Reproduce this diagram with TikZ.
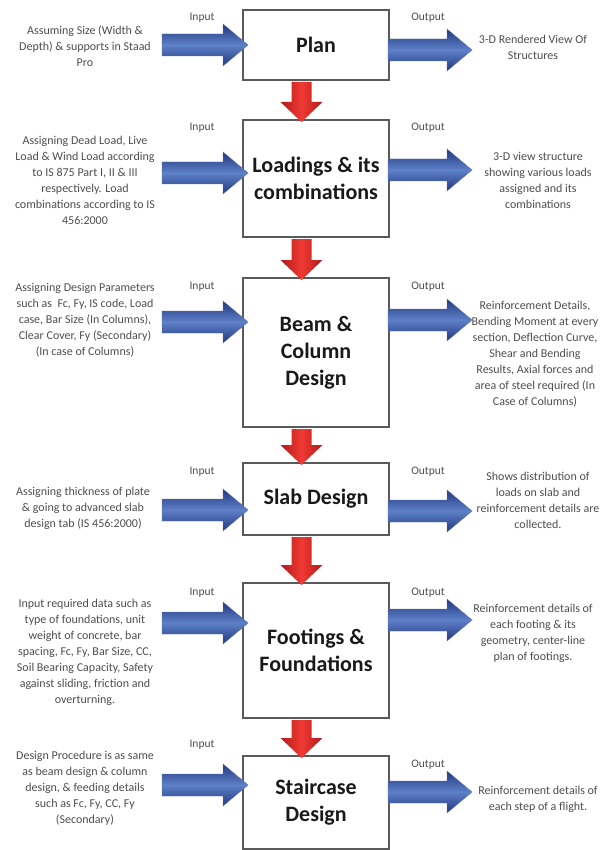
\documentclass[tikz,border=0pt]{standalone}
\usepackage{fontspec}
\setmainfont{Carlito}
\definecolor{txtgray}{HTML}{4E4E4E}
\definecolor{boxgray}{HTML}{5A5A5A}
\definecolor{bdark}{HTML}{22387E}
\definecolor{blight}{HTML}{5E80C8}
\definecolor{rdark}{HTML}{B21A1A}
\definecolor{rlight}{HTML}{F03A34}
\newcommand\bluearr[4]{% tail x, head base x, tip x, centre y
  \shade[top color=bdark, bottom color=bdark, middle color=blight, draw=bdark!70, line width=0.4pt]
    (#1,{#4-11}) -- (#2,{#4-11}) -- (#2,{#4-21}) -- (#3,#4) -- (#2,{#4+21}) -- (#2,{#4+11}) -- (#1,{#4+11}) -- cycle;}
\newcommand\redarr[2]{% start y, tip y
  \shade[left color=rdark, right color=rdark, middle color=rlight]
    (291.5,#1) -- (311.5,#1) -- (311.5,{#2-20}) -- (322.5,{#2-20}) -- (301.5,#2) -- (280.5,{#2-20}) -- (291.5,{#2-20}) -- cycle;}
\begin{document}
\begin{tikzpicture}[x=1pt,y=-1pt,
  stepbox/.style={draw=boxgray, line width=1.3pt, fill=white, minimum width=146pt,
    inner sep=0pt, align=center, text=black!90, font=\bfseries\fontsize{22}{27}\selectfont},
  desc/.style={align=center, inner sep=0pt, text=txtgray, font=\fontsize{12}{16}\selectfont},
  lbl/.style={inner sep=0pt, text=txtgray, font=\fontsize{11.5}{14}\selectfont}]
\clip (0,0) rectangle (600,850);
\fill[white] (0,0) rectangle (600,850);

% boxes
\node[stepbox, minimum height=70pt]  (b1) at (316,45)    {Plan};
\node[stepbox, minimum height=117pt] (b2) at (316,178.5) {Loadings \& its\\combinations};
\node[stepbox, minimum height=149pt] (b3) at (316,352.5) {Beam \&\\Column\\Design};
\node[stepbox, minimum height=72pt]  (b4) at (316,499)   {Slab Design};
\node[stepbox, minimum height=135pt] (b5) at (316,650.5) {Footings \&\\Foundations};
\node[stepbox, minimum height=93pt]  (b6) at (316,802.5) {Staircase\\Design};

% input texts
\node[desc] (i1) at (85,46)  {Assuming Size (Width \&\\Depth) \& supports in Staad\\Pro};
\node[desc] (i2) at (85,180) {Assigning Dead Load, Live\\Load \& Wind Load according\\to IS 875 Part I, II \& III\\respectively. Load\\combinations according to IS\\456:2000};
\node[desc] (i3) at (85,320) {Assigning Design Parameters\\such as\ \ Fc, Fy, IS code, Load\\case, Bar Size (In Columns),\\Clear Cover, Fy (Secondary)\\(In case of Columns)};
\node[desc] (i4) at (83,508) {Assigning thickness of plate\\\& going to advanced slab\\design tab (IS 456:2000)};
\node[desc] (i5) at (85,652) {Input required data such as\\type of foundations, unit\\weight of concrete, bar\\spacing, Fc, Fy, Bar Size, CC,\\Soil Bearing Capacity, Safety\\against sliding, friction and\\overturning.};
\node[desc] (i6) at (85,788) {Design Procedure is as same\\as beam design \& column\\design, \& feeding details\\such as Fc, Fy, CC, Fy\\(Secondary)};

% output texts
\node[desc] (o1) at (533,47)  {3-D Rendered View Of\\Structures};
\node[desc] (o2) at (538,180) {3-D view structure\\showing various loads\\assigned and its\\combinations};
\node[desc] (o3) at (535,354) {Reinforcement Details,\\Bending Moment at every\\section, Deflection Curve,\\Shear and Bending\\Results, Axial forces and\\area of steel required (In\\Case of Columns)};
\node[desc] (o4) at (538,500) {Shows distribution of\\loads on slab and\\reinforcement details are\\collected.};
\node[desc] (o5) at (533,633) {Reinforcement details of\\each footing \& its\\geometry, center-line\\plan of footings.};
\node[desc] (o6) at (538,799) {Reinforcement details of\\each step of a flight.};

% labels
\foreach \n/\y in {1/18,2/128,3/287,4/472,5/593,6/745}
  \node[lbl] (inl\n) at (202,\y) {Input};
\foreach \n/\y in {1/18,2/128,3/287,4/472,5/593,6/765}
  \node[lbl] (outl\n) at (428,\y) {Output};

% blue block arrows
\foreach \y in {45,173,322,510,623,785}
  \bluearr{162}{223}{248}{\y};
\foreach \y in {50,170,320,511,620,792}
  \bluearr{388}{447}{472}{\y};

% red block arrows between steps
\redarr{82}{122}
\redarr{239}{280}
\redarr{429}{465}
\redarr{537}{585}
\redarr{720}{758}
\end{tikzpicture}
\end{document}
